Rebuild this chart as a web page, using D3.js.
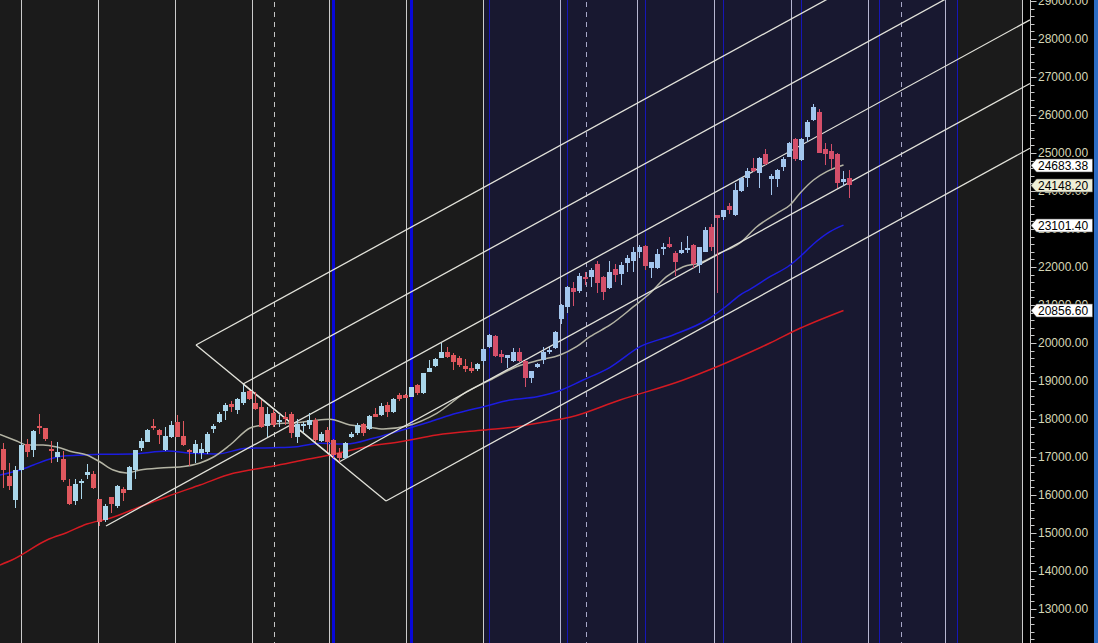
<!DOCTYPE html>
<html>
<head>
<meta charset="utf-8">
<script src="https://cdn.jsdelivr.net/npm/d3@7"></script>
<style>
html, body { margin: 0; padding: 0; background: #000; overflow: hidden; }
svg { display: block; }
</style>
</head>
<body>
<script>
// weekly candles, index 0..141
var candleOpen = [17210,16500,15868,16658,17333,17184,17816,17754,17210,17009,16947,16237,15851,16307,16535,16553,15895,15342,15947,15719,
	16158,16132,16658,17245,17403,17816,17710,17184,17535,17921,17552,17184,17096,17114,17140,17745,17912,18219,18395,18237,
	18430,18737,18430,18324,17824,18149,17930,18044,18131,17535,17824,17842,17974,17421,17710,17447,17096,16964,17535,17640,
	17868,17728,18131,18105,18368,18193,18631,18631,18588,18895,18675,19246,19395,19614,19754,19684,19597,19395,19333,19307,
	19526,19903,20184,19710,19614,19526,19754,19535,19070,19360,19553,19755,19860,20623,20956,21439,21369,21728,21746,22079,
	21746,21439,21947,21807,22114,22158,22404,22553,21983,21965,22465,22605,22360,22360,22448,22579,22053,22404,23061,23368,
	23325,23605,23368,24009,24333,24597,24465,24965,24307,24316,24640,24904,25368,24816,25412,25868,26088,25105,25053,24974,
	24246,24333];
var candleHigh = [17359,16833,16763,17359,17465,17700,18132,17772,17421,17386,17158,16421,16421,16421,16816,16632,15895,15763,15956,16254,
	16219,16763,17184,17491,17737,17999,17737,17798,17947,18105,17947,17210,17447,17359,17666,17868,18193,18412,18474,18544,
	18895,18763,18719,18500,18307,18237,18105,18193,18193,17991,17930,18149,18017,17667,17798,17470,17228,17403,17667,17886,
	17886,18105,18281,18430,18456,18544,18693,18649,18850,18912,19219,19553,19597,20009,19886,19728,19658,19570,19509,19482,
	19860,20230,20210,19816,19684,19860,19860,19553,19263,19465,19886,19886,20325,21027,21500,21597,21834,21877,21965,22158,
	21772,22158,22079,22123,22316,22518,22579,22579,22140,22465,22623,22781,22430,22650,22816,22597,22535,23061,23132,23368,
	23500,23676,24202,24377,24597,24860,24904,25096,24447,24579,24904,25298,25386,25386,25868,26290,26158,25272,25237,25009,
	24526,24553];
var candleLow = [16193,16132,15666,16570,17009,17009,17605,17421,16833,16877,16351,15737,15737,15895,16421,16158,15193,15281,15517,15666,
	15851,16132,16421,17166,17386,17710,17342,17158,17491,17517,17298,16763,16833,16947,17079,17640,17895,17974,18193,18132,
	18368,18500,18237,17754,17535,17798,17798,17842,17491,17359,17667,17728,17403,17386,17140,16970,16877,16938,17491,17579,
	17552,17710,18044,18079,18061,18167,18482,18544,18570,18631,18649,19228,19360,19597,19597,19289,19377,19246,19219,19272,
	19421,19880,19640,19482,19333,19509,19509,18851,18938,19333,19439,19700,19834,20500,20800,20974,21307,21527,21483,21307,
	21132,21413,21614,21527,21860,21877,22228,21921,21720,21948,22316,22492,21772,22333,22360,21965,21834,22386,22430,21307,
	23237,23395,23342,23983,24114,24509,24088,24684,23895,24114,24535,24886,24798,24790,25298,25851,24991,24684,24579,24070,
	24132,23825];
var candleClose = [16658,16245,16658,17316,17140,17684,17763,17474,17166,17131,16394,15763,16289,16368,16605,16193,15298,15710,15754,16237,
	16061,16737,17184,17421,17710,17772,17570,17552,17842,17535,17316,17123,17333,17210,17605,17816,18132,18368,18307,18526,
	18702,18526,18254,17798,18131,17842,17974,17991,17623,17859,17868,17974,17447,17605,17403,17052,16964,17359,17605,17842,
	17623,18079,18061,18342,18193,18518,18526,18561,18833,18675,19202,19333,19570,19754,19640,19509,19421,19324,19263,19447,
	19842,20210,19666,19640,19684,19754,19535,19070,19263,19447,19755,19816,20281,21000,21465,21351,21763,21684,21921,21588,
	21351,21860,21790,22053,22246,22386,22535,22035,22140,22342,22518,22535,22140,22448,22492,22079,22518,22974,22535,23298,
	23500,23500,24026,24333,24526,24535,24860,24711,24395,24553,24842,25272,24842,25368,25825,26202,25009,24974,24842,24202,
	24316,24148];

// moving averages at candle positions
var maGrayIdx = [-0.6,2.2,3.9,6.6,8.9,11.6,13.9,16.1,18.3,20.5,22.75,26.1,29.4,32.75,35,37.75,41.1,43.3,46.6,48.9,51.6,54.4,57.75,60.5,63.3,
	67.2,72.2,77.2,81.1,85.5,89.4,92.75,95.5,97.75,101.1,105,107.75,110.5,113.3,116.1,119.4,122.75,125.5,128.9,131.1,132.75,135,137.2,140];
var maGrayVal = [17592,17421,17316,17316,17263,17132,17053,16868,16658,16579,16658,16711,16737,16842,17000,17316,17763,17842,17887,17903,17955,17992,17842,17797,17737,
	17816,18150,18718,19026,19376,19553,19684,19903,20166,20474,20955,21308,21745,22008,22113,22368,22632,23053,23413,23632,23940,24289,24508,24683.38];
var maBlueIdx = [-0.6,2.75,5,7.2,10,13.3,16.1,21.6,27.2,31.6,35.5,40.5,44.95,48.9,52.75,57.2,61.6,65.5,71.1,75.5,80,84.4,88.9,92.2,96.6,
	101.1,106.1,111.6,117.2,120.5,122.75,124.4,127.75,131.1,132.75,135,137.75,140];
var maBlueVal = [16526,16658,16789,16921,17026,17053,17071,17079,17158,17097,17079,17229,17245,17271,17361,17342,17492,17666,17929,18150,18324,18500,18587,18718,19026,
	19361,19903,20211,20605,20974,21263,21413,21745,22053,22271,22605,22929,23101.40];
var maRedIdx = [-0.6,1.4,7.5,10.5,13.9,17.75,22.75,27.2,32.75,38.3,41.1,45,50,55,60.5,66.1,72.2,80,85.5,91.1,94.4,102.75,113.3,118.3,122.75,127.75,132.75,140];
var maRedVal = [14158,14289,14834,15008,15237,15387,15692,15955,16263,16571,16658,16763,16921,17071,17271,17403,17579,17711,17797,17947,18045,18500,19026,19334,19639,20000,20387,20856.60];

// drawn trend lines: [index, price] -> [index, price]
var trendLines = [
	[[17.08, 15184], [171.08, 28505]],
	[[55.92, 16868], [171.08, 26830]],
	[[63.75, 15842], [171.08, 25126]],
	[[32.08, 19947], [171.08, 31970]],
	[[39.92, 18921], [171.08, 30267]],
	[[32.08, 19947], [63.75, 15842]],
	[[39.92, 18921], [55.92, 16868]]
];

// time markers (candle index units)
var quarterLines = [2.87,15.7,28.53,41.37,54.2,67.03,79.87,92.7,105.53,118.37,131.2,144.03,156.87,169.7];
var yearLines = [45, 97.1, 149.5];
var cycleLines = [55, 68, 81, 94, 107, 120, 133, 146, 159];
var shadeFrom = 80, shadeTo = 159;

var yTicks = d3.range(13000, 29001, 1000);
var yMinor = d3.range(12200, 29201, 200);
var tagValues = [24683.38, 24148.20, 23101.40, 20856.60];
var tagFills = ['#ffffff', '#eeeed6', '#ffffff', '#ffffff'];

var width = 1098, height = 643,
    plotRight = 1022, axisX = 1030.5;

var svg = d3.select('body').append('svg')
	.attr('width', width)
	.attr('height', height);

var x = d3.scaleLinear().domain([0, 141]).range([3.5, 849.5]);
var y = d3.scaleLinear().domain([20000, 28000]).range([343, 39]);

svg.append('defs').append('clipPath').attr('id', 'plot')
	.append('rect').attr('width', axisX).attr('height', height);

// backgrounds
svg.append('rect').attr('width', plotRight).attr('height', height).attr('fill', '#1b1b1b');
svg.append('rect')
	.attr('x', x(shadeFrom)).attr('width', x(shadeTo) - x(shadeFrom))
	.attr('height', height).attr('fill', '#181830');
svg.append('rect').attr('x', plotRight).attr('width', width - plotRight).attr('height', height).attr('fill', '#000');
svg.append('rect').attr('x', 1094).attr('width', 4).attr('height', height).attr('fill', '#2c6cc4');

var inShade = function(i) { return i >= shadeFrom && i <= shadeTo; };

var grid = svg.append('g');
grid.selectAll('.q').data(quarterLines).enter().append('line')
	.attr('x1', function(d) { return Math.round(x(d)) + 0.5; })
	.attr('x2', function(d) { return Math.round(x(d)) + 0.5; })
	.attr('y1', 0).attr('y2', height)
	.attr('stroke', function(d) { return inShade(d) ? '#b6b6d0' : '#cbcbcb'; })
	.attr('stroke-width', 1);
grid.selectAll('.yr').data(yearLines).enter().append('line')
	.attr('x1', function(d) { return Math.round(x(d)) + 0.5; })
	.attr('x2', function(d) { return Math.round(x(d)) + 0.5; })
	.attr('y1', 2).attr('y2', height)
	.attr('stroke', function(d) { return inShade(d) ? '#a8a8c8' : '#c4c4c4'; })
	.attr('stroke-dasharray', '5,5');
grid.selectAll('.cy').data(cycleLines).enter().append('line')
	.attr('x1', function(d) { return x(d); })
	.attr('x2', function(d) { return x(d); })
	.attr('y1', 0).attr('y2', height)
	.attr('stroke', function(d) { return inShade(d) ? '#1616b8' : '#0808d8'; })
	.attr('stroke-width', function(d) { return inShade(d) ? 1 : 3; });

// moving averages
var maLine = function(idx, val) {
	return d3.line()
		.curve(d3.curveMonotoneX)
		.x(function(d, i) { return x(idx[i]); })
		.y(function(d) { return y(d); })(val);
};
var mas = svg.append('g').attr('fill', 'none').attr('stroke-width', 1.5);
mas.append('path').attr('d', maLine(maRedIdx, maRedVal)).attr('stroke', '#d41a22');
mas.append('path').attr('d', maLine(maBlueIdx, maBlueVal)).attr('stroke', '#1c1ce0');
mas.append('path').attr('d', maLine(maGrayIdx, maGrayVal)).attr('stroke', '#b4b4a4');

// trend lines
svg.append('g').attr('clip-path', 'url(#plot)')
	.selectAll('line').data(trendLines).enter().append('line')
	.attr('x1', function(d) { return x(d[0][0]); })
	.attr('y1', function(d) { return y(d[0][1]); })
	.attr('x2', function(d) { return x(d[1][0]); })
	.attr('y2', function(d) { return y(d[1][1]); })
	.attr('stroke', '#e2e2da')
	.attr('stroke-width', 1.3);

// candles
var candleColor = function(i) {
	var up = candleClose[i] >= candleOpen[i];
	if(inShade(i)) return up ? '#a3c6ee' : '#d44f6a';
	return up ? '#aad6ea' : '#e0585e';
};
var candles = svg.append('g').attr('shape-rendering', 'crispEdges')
	.selectAll('g').data(d3.range(candleOpen.length)).enter().append('g');
candles.append('line')
	.attr('x1', function(i) { return x(i); })
	.attr('x2', function(i) { return x(i); })
	.attr('y1', function(i) { return y(candleHigh[i]); })
	.attr('y2', function(i) { return y(candleLow[i]); })
	.attr('stroke', candleColor);
candles.append('rect')
	.attr('x', function(i) { return x(i) - 2.5; })
	.attr('width', 5)
	.attr('y', function(i) { return y(Math.max(candleOpen[i], candleClose[i])); })
	.attr('height', function(i) { return Math.max(1, Math.abs(y(candleOpen[i]) - y(candleClose[i]))); })
	.attr('fill', candleColor);

// price axis
var axis = svg.append('g');
axis.append('line')
	.attr('x1', axisX).attr('x2', axisX).attr('y1', 0).attr('y2', height)
	.attr('stroke', '#c8c8c8');
axis.selectAll('.minor').data(yMinor).enter().append('line')
	.attr('x1', axisX).attr('x2', function(d) { return d % 1000 === 0 ? axisX + 6 : axisX + 4; })
	.attr('y1', function(d) { return Math.round(y(d)) + 0.5; })
	.attr('y2', function(d) { return Math.round(y(d)) + 0.5; })
	.attr('stroke', '#c8c8c8');
axis.selectAll('text').data(yTicks).enter().append('text')
	.attr('x', 1038)
	.attr('y', function(d) { return y(d); })
	.attr('dy', '0.36em')
	.attr('font-family', 'Liberation Sans, Arial, sans-serif')
	.attr('font-size', 12)
	.attr('fill', '#d6d6b6')
	.text(d3.format('.2f'));

// last value tags
var tags = svg.append('g').selectAll('g').data(tagValues).enter().append('g')
	.attr('transform', function(d) { return 'translate(0,' + Math.round(y(d)) + ')'; });
tags.append('path')
	.attr('d', 'M1031,0.5L1036.5,-6L1092.5,-6L1092.5,7L1036.5,7Z')
	.attr('fill', function(d, i) { return tagFills[i]; })
	.attr('stroke', '#555')
	.attr('stroke-width', 0.6);
tags.append('text')
	.attr('x', 1038).attr('y', 0).attr('dy', '0.4em')
	.attr('font-family', 'Liberation Sans, Arial, sans-serif')
	.attr('font-size', 12)
	.attr('fill', '#000')
	.text(d3.format('.2f'));
</script>
</body>
</html>
